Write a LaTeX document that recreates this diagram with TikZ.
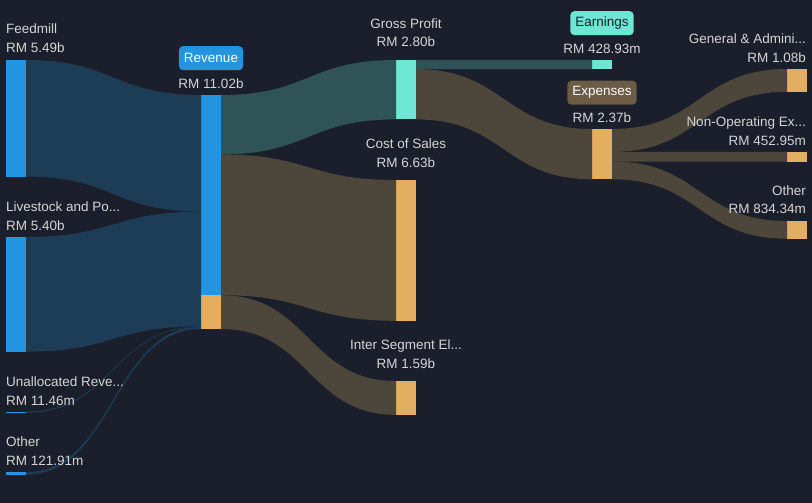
\documentclass[tikz,border=0pt]{standalone}
\usepackage{fontspec}
\setmainfont{Liberation Sans}
\usetikzlibrary{calc,positioning}
\definecolor{bg}{HTML}{1B1F2B}
\definecolor{blu}{HTML}{2394DF}
\definecolor{bluflow}{HTML}{1D3D56}
\definecolor{mint}{HTML}{6DE6D3}
\definecolor{mintflow}{HTML}{2F5356}
\definecolor{amber}{HTML}{E4AE60}
\definecolor{brownflow}{HTML}{4D463B}
\definecolor{exptag}{HTML}{6C5B45}
\definecolor{txt}{HTML}{D5D5D5}

% band between two bars: colour, source, top, bottom, target, top, bottom
\newcommand{\flow}[7]{%
  \fill[#1] ($(#2.north east)+(0,#3)$) .. controls +(88,0) and +(-88,0) .. ($(#5.north west)+(0,#6)$)
    -- ($(#5.north west)+(0,#7)$) .. controls +(-88,0) and +(88,0) .. ($(#2.north east)+(0,#4)$) -- cycle;}

\tikzset{
  bar/.style={rectangle, inner sep=0pt, outer sep=0pt, minimum width=20pt, anchor=north west},
  lbl/.style={text=txt, inner sep=0pt, font=\fontsize{13.5}{16}\selectfont},
  tag/.style={rounded corners=4pt, minimum height=24pt, inner xsep=5pt, inner ysep=0pt, anchor=north,
    font=\fontsize{13.5}{16}\selectfont}
}

\begin{document}
\begin{tikzpicture}[x=1pt, y=-1pt]
  \fill [bg] (0,0) rectangle (812,503);
  \useasboundingbox (0,0) rectangle (812,503);

  % bars
  \node[bar, fill=blu, minimum height=116.6pt] (feed) at (6,60) {};
  \node[bar, fill=blu, minimum height=114.6pt] (live) at (6,237) {};
  \node[bar, fill=blu, minimum height=1.2pt] (unal) at (6,411.5) {};
  \node[bar, fill=blu, minimum height=2.6pt] (othl) at (6,472) {};
  \node[bar, fill=blu, minimum height=200.2pt] (rev) at (201,95) {};
  \node[bar, fill=amber, minimum height=33.8pt, below=0pt of rev] (revx) {};
  \node[bar, fill=mint, minimum height=59.4pt] (gp) at (396,60) {};
  \node[bar, fill=amber, minimum height=140.8pt] (cos) at (396,180) {};
  \node[bar, fill=amber, minimum height=33.8pt] (ise) at (396,381) {};
  \node[bar, fill=mint, minimum height=9.1pt] (earn) at (592,60) {};
  \node[bar, fill=amber, minimum height=50.3pt] (exp) at (592,129) {};
  \node[bar, fill=amber, minimum height=22.9pt] (gen) at (787,69) {};
  \node[bar, fill=amber, minimum height=9.6pt] (nonop) at (787,152) {};
  \node[bar, fill=amber, minimum height=17.7pt] (othr) at (787,221) {};

  % flows
  \flow{bluflow}{feed}{0}{116.6}{rev}{0}{116.6}
  \flow{bluflow}{live}{0}{114.6}{rev}{116.6}{231.2}
  \flow{bluflow}{unal}{0}{1.2}{rev}{231.2}{231.8}
  \flow{bluflow}{othl}{0}{2.6}{rev}{231.6}{234}
  \flow{mintflow}{rev}{0}{59.4}{gp}{0}{59.4}
  \flow{brownflow}{rev}{59.4}{200.2}{cos}{0}{140.8}
  \flow{brownflow}{rev}{200.2}{234}{ise}{0}{33.8}
  \flow{mintflow}{gp}{0}{9.1}{earn}{0}{9.1}
  \flow{brownflow}{gp}{9.1}{59.4}{exp}{0}{50.3}
  \flow{brownflow}{exp}{0}{22.9}{gen}{0}{22.9}
  \flow{brownflow}{exp}{22.9}{32.5}{nonop}{0}{9.6}
  \flow{brownflow}{exp}{32.5}{50.3}{othr}{0}{17.7}

  % labels
  \node[lbl, anchor=base west] (feedN) at (6,34) {Feedmill};
  \node[lbl, anchor=base west] (feedV) at (6,53) {RM 5.49b};
  \node[lbl, anchor=base west] (liveN) at (6,211.5) {Livestock and Po...};
  \node[lbl, anchor=base west] (liveV) at (6,230) {RM 5.40b};
  \node[lbl, anchor=base west] (unalN) at (6,386.5) {Unallocated Reve...};
  \node[lbl, anchor=base west] (unalV) at (6,405) {RM 11.46m};
  \node[lbl, anchor=base west] (othlN) at (6,446) {Other};
  \node[lbl, anchor=base west] (othlV) at (6,465) {RM 121.91m};

  \node[tag, fill=blu, text=white] (revT) at (211,46) {Revenue};
  \node[lbl, anchor=base] (revV) at (211,88.3) {RM 11.02b};
  \node[lbl, anchor=base] (gpN) at (406,28.3) {Gross Profit};
  \node[lbl, anchor=base] (gpV) at (406,47) {RM 2.80b};
  \node[lbl, anchor=base] (cosN) at (406,148.3) {Cost of Sales};
  \node[lbl, anchor=base] (cosV) at (406,167) {RM 6.63b};
  \node[lbl, anchor=base] (iseN) at (406,349.3) {Inter Segment El...};
  \node[lbl, anchor=base] (iseV) at (406,368.3) {RM 1.59b};

  \node[tag, fill=mint, text=bg] (earnT) at (602,11) {Earnings};
  \node[lbl, anchor=base] (earnV) at (602,53.3) {RM 428.93m};
  \node[tag, fill=exptag, text=white] (expT) at (602,80.5) {Expenses};
  \node[lbl, anchor=base] (expV) at (602,122) {RM 2.37b};

  \node[lbl, anchor=base east] (genN) at (806,43.3) {General \& Admini...};
  \node[lbl, anchor=base east] (genV) at (806,62.3) {RM 1.08b};
  \node[lbl, anchor=base east] (nonopN) at (806,126) {Non-Operating Ex...};
  \node[lbl, anchor=base east] (nonopV) at (806,145) {RM 452.95m};
  \node[lbl, anchor=base east] (othrN) at (806,195) {Other};
  \node[lbl, anchor=base east] (othrV) at (806,213.3) {RM 834.34m};
\end{tikzpicture}
\end{document}
